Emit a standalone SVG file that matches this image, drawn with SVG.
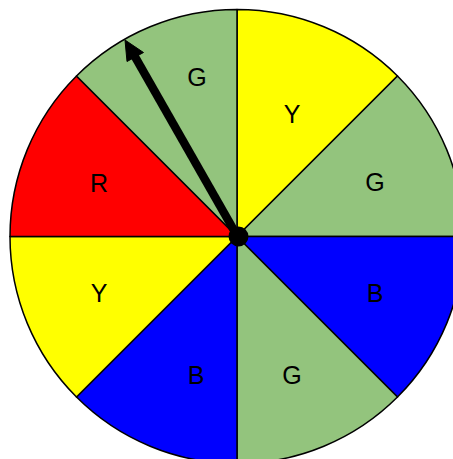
<svg xmlns="http://www.w3.org/2000/svg" width="453" height="459" viewBox="0 0 453 459">
<style>
.s{stroke:#000;stroke-width:1.5;stroke-linejoin:round}
.g{fill:#93C47D}.y{fill:#FFFF00}.r{fill:#FF0000}.b{fill:#0000FF}
text{font-family:"Liberation Sans",Arial,sans-serif;font-size:25px;fill:#000;text-anchor:middle}
</style>
<g id="sectors">
<g id="s-yellow-top"><path class="s y" d="M237 236.5 L237 9.5 A227 227 0 0 1 397.5 76 Z"/><text x="292" y="123">Y</text></g>
<g id="s-green-right"><path class="s g" d="M237 236.5 L397.5 76 A227 227 0 0 1 464 236.5 Z"/><text x="375" y="191">G</text></g>
<g id="s-blue-right"><path class="s b" d="M237 236.5 L464 236.5 A227 227 0 0 1 397.5 397 Z"/><text x="375" y="302">B</text></g>
<g id="s-green-bottom"><path class="s g" d="M237 236.5 L397.5 397 A227 227 0 0 1 237 463.5 Z"/><text x="292" y="384">G</text></g>
<g id="s-blue-bottom"><path class="s b" d="M237 236.5 L237 463.5 A227 227 0 0 1 76.5 397 Z"/><text x="196" y="384">B</text></g>
<g id="s-yellow-left"><path class="s y" d="M237 236.5 L76.5 397 A227 227 0 0 1 10 236.5 Z"/><text x="99" y="302">Y</text></g>
<g id="s-red"><path class="s r" d="M237 236.5 L10 236.5 A227 227 0 0 1 76.5 76 Z"/><text x="99" y="192">R</text></g>
<g id="s-green-top"><path class="s g" d="M237 236.5 L76.5 76 A227 227 0 0 1 237 9.5 Z"/><text x="197" y="86">G</text></g>
</g>
<g id="connectors">
<line x1="237.5" y1="236.5" x2="134" y2="55" stroke="#000" stroke-width="8.5"/>
<polygon points="125,40 143.5,52.5 127,61.5" fill="#000" stroke="#000" stroke-width="1" stroke-linejoin="miter"/>
</g>
<g id="hub"><circle cx="238.5" cy="236.5" r="10" fill="#000"/></g>
</svg>
